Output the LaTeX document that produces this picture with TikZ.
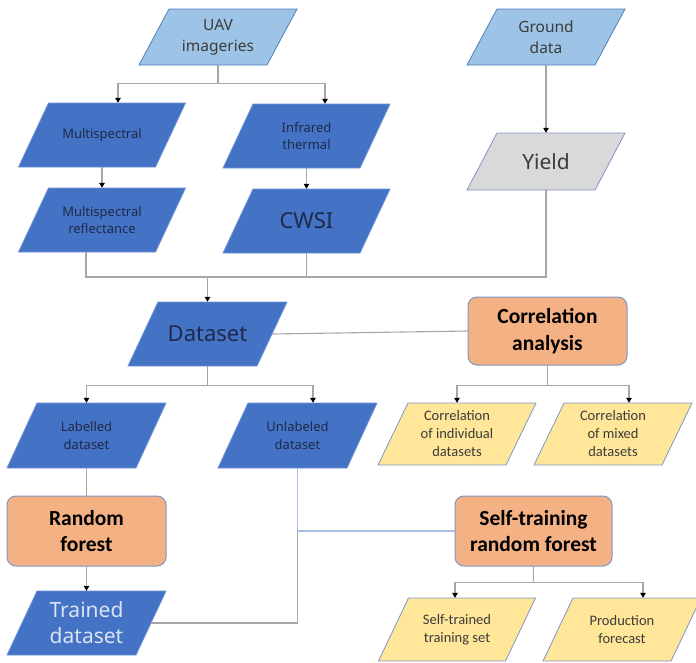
\documentclass[tikz,border=0pt]{standalone}
\usepackage{fontspec}
\setmainfont{Noto Sans}
\newfontfamily\carlito{Carlito}
\usetikzlibrary{arrows.meta,calc}

\definecolor{dblue}{HTML}{4472C4}
\definecolor{dblueline}{HTML}{6E93D6}
\definecolor{lblue}{HTML}{9DC3E6}
\definecolor{lblueline}{HTML}{4F81BD}
\definecolor{yell}{HTML}{FFE699}
\definecolor{orng}{HTML}{F4B183}
\definecolor{frame}{HTML}{7F96C8}
\definecolor{gry}{HTML}{D9D9D9}
\definecolor{wirec}{HTML}{A6A6A6}
\definecolor{bwirec}{HTML}{A9BEE4}
\definecolor{navy}{HTML}{1F2A4A}
\definecolor{darkgray}{HTML}{3C3C3C}
\definecolor{paleblue}{HTML}{DAE3F3}

% parallelogram: name, fill style, text style, centre x, centre y, side length, height, text
\newcommand\pgram[8]{%
  \path[#2] ({#4-#6/2-15},{#5+#7/2}) -- ({#4+#6/2-15},{#5+#7/2})
     -- ({#4+#6/2+15},{#5-#7/2}) -- ({#4-#6/2+15},{#5-#7/2}) -- cycle;
  \node[#3, minimum width=#6pt, minimum height=#7pt] (#1) at (#4,#5) {#8};}

\tikzset{
  darkp/.style={fill=dblue, draw=dblueline, line width=0.8pt},
  lightp/.style={fill=lblue, draw=lblueline, line width=0.8pt},
  yellp/.style={fill=yell, draw=frame, line width=0.8pt},
  grayp/.style={fill=gry, draw=frame, line width=0.8pt},
  txtb/.style={align=center, inner sep=0pt, text=navy, font=\fontsize{13}{17.5}\selectfont},
  txtg/.style={align=center, inner sep=0pt, text=darkgray, font=\fontsize{15.5}{21}\selectfont},
  txty/.style={align=center, inner sep=0pt, text=darkgray, font=\carlito\fontsize{14.5}{18}\selectfont},
  procbox/.style={rectangle, rounded corners=9pt, fill=orng, draw=frame, line width=1pt,
    align=center, inner sep=0pt, font=\carlito\bfseries\fontsize{21.5}{26.5}\selectfont},
  wire/.style={draw=wirec, line width=1.1pt},
  bwire/.style={draw=bwirec, line width=1.1pt},
  arr/.style={wire, -{Triangle[width=5.5pt,length=5pt,color=black]}}
}

\begin{document}
\begin{tikzpicture}[x=1pt,y=-1pt]
\useasboundingbox[fill=white] (0,0) rectangle (696,662);

% inputs
\pgram{uav}{lightp}{txtg}{218}{37}{128}{56}{UAV\\imageries}
\pgram{ground}{lightp}{txtg}{546}{37}{128}{56}{Ground\\data}

% sensor data
\pgram{ms}{darkp}{txtb}{102}{135}{137}{64}{Multispectral}
\pgram{ir}{darkp}{txtb}{306.5}{136}{137}{64}{Infrared\\thermal}
\pgram{msr}{darkp}{txtb}{102}{220}{137}{64}{Multispectral\\reflectance}
\pgram{cwsi}{darkp}{txtb, font=\fontsize{22}{26}\selectfont}{306.5}{221}{137}{64}{CWSI}
\pgram{yield}{grayp}{txtg, font=\fontsize{21}{25}\selectfont}{546}{161.5}{128}{57}{Yield}

% dataset and its split
\pgram{data}{darkp}{txtb, font=\fontsize{22}{26}\selectfont}{207.5}{334}{129}{64}{Dataset}
\pgram{lab}{darkp}{txtb}{86.5}{435.5}{129}{65}{Labelled\\dataset}
\pgram{unlab}{darkp}{txtb}{297.5}{435.5}{129}{65}{Unlabeled\\dataset}

% correlation branch
\node[procbox, minimum width=159pt, minimum height=68pt] (corr) at (547.5,331) {Correlation\\analysis};
\pgram{ind}{yellp}{txty}{457}{434}{128}{62}{Correlation\\of individual\\datasets}
\pgram{mix}{yellp}{txty}{613}{434}{128}{62}{Correlation\\of mixed\\datasets}

% model branch
\node[procbox, minimum width=159pt, minimum height=70pt] (rf) at (86.5,531) {Random\\forest};
\pgram{trained}{darkp}{txtb, text=paleblue, font=\fontsize{21}{26}\selectfont}{86.5}{623}{129}{64}{Trained\\dataset}
\node[procbox, minimum width=157pt, minimum height=70pt] (strf) at (533.5,531) {Self-training\\random forest};
\pgram{selfset}{yellp}{txty}{457}{629.5}{127}{63}{Self-trained\\training set}
\pgram{prod}{yellp}{txty}{622}{629.5}{128}{63}{Production\\forecast}

% connectors
\draw[arr] (uav.south) -- ++(0,18) -| ([xshift=16pt]ms.north);
\draw[arr] (uav.south) -- ++(0,18) -| ([xshift=18.5pt]ir.north);
\draw[arr] (ms) -- (msr);
\draw[arr] (ir) -- (cwsi);
\draw[arr] (ground) -- (yield);

\coordinate (j1) at (207.5,277);
\draw[wire] ([xshift=-16pt]msr.south) |- (j1) -| (yield.south);
\draw[wire] (cwsi.south) -- (cwsi.south |- j1);
\draw[arr] (j1) -- (data.north);

\draw[wire] (data.east) -- (corr.west);
\draw[arr] (data.south) -- ++(0,19) -| (lab.north);
\draw[arr] (data.south) -- ++(0,19) -| ([xshift=15.5pt]unlab.north);

\draw[arr] (corr.south) -- ++(0,20) -| (ind.north);
\draw[arr] (corr.south) -- ++(0,20) -| ([xshift=16pt]mix.north);

\draw[wire] (lab) -- (rf);
\draw[arr] (rf) -- (trained);

\coordinate (j2) at (unlab.south |- strf.west);
\draw[wire] (trained.east) -| (j2);
\draw[bwire] (unlab.south) -- (j2) -- (strf.west);

\draw[arr] (strf.south) -- ++(0,16) -| ([xshift=-2pt]selfset.north);
\draw[arr] (strf.south) -- ++(0,16) -| ([xshift=21pt]prod.north);
\end{tikzpicture}
\end{document}
